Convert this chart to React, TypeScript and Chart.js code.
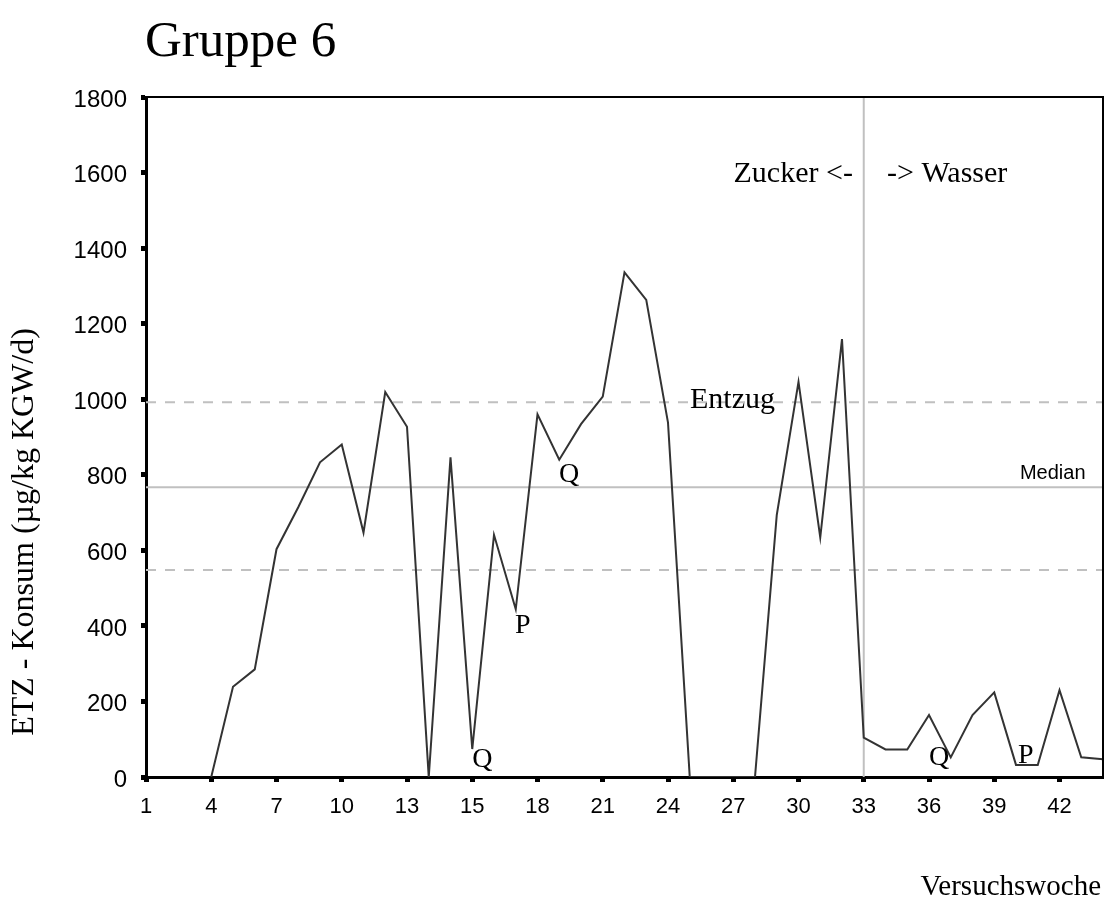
import React, { useEffect, useRef } from "react";
import { Chart, registerables } from "chart.js";

Chart.register(...registerables);

// Versuchswoche categories (one per data point)
const weeks: string[] = [
  "1", "2", "3", "4", "5", "6", "7", "8", "9", "10", "11", "12", "13", "14a", "14b",
  "15", "16", "17", "18", "19", "20", "21", "22", "23", "24", "25", "26", "27", "28", "29",
  "30", "31", "32", "33", "34", "35", "36", "37", "38", "39", "40", "41", "42", "43", "44",
];

// ETZ consumption (µg/kg KGW/d)
const konsum: (number | null)[] = [
  null, null, null, 0, 239, 285, 603, 714, 833, 880, 647, 1019, 927, 0, 846,
  74, 641, 444, 960, 840, 934, 1007, 1336, 1263, 938, 0, 0, 0, 0, 693,
  1046, 634, 1159, 104, 73, 73, 164, 52, 164, 224, 32, 32, 230, 52, 47,
];

const yTicks: number[] = [0, 200, 400, 600, 800, 1000, 1200, 1400, 1600, 1800];
const xTickIndex: number[] = [0, 3, 6, 9, 12, 15, 18, 21, 24, 27, 30, 33, 36, 39, 42];

const entzugUpper = 992;
const median = 767;
const entzugLower = 548;
const switchWeekIndex = 33;

// annotation texts anchored in data coordinates: [text, xIndex, yValue, align, fontSize]
const annotations: [string, number, number, CanvasTextAlign, number][] = [
  ["Q", 15.0, 26, "left", 28],
  ["P", 16.97, 381, "left", 28],
  ["Q", 18.99, 781, "left", 28],
  ["Q", 36.0, 32, "left", 28],
  ["P", 40.09, 37, "left", 28],
  ["Entzug", 25.01, 977, "left", 30],
  ["Zucker <-", 32.5, 1575, "right", 30],
  ["-> Wasser", 34.07, 1575, "left", 30],
];

const SERIF = "'Liberation Serif', 'Times New Roman', serif";
const SANS = "'Liberation Sans', Arial, sans-serif";

const annotPlugin = {
  id: "annotPlugin",
  afterDatasetsDraw(chart: any) {
    const { ctx, chartArea: a, scales } = chart;
    const x = scales.x;
    const y = scales.y;
    ctx.save();
    // frame top & right
    ctx.strokeStyle = "#000";
    ctx.lineWidth = 2;
    ctx.beginPath();
    ctx.moveTo(a.left, a.top);
    ctx.lineTo(a.right, a.top);
    ctx.lineTo(a.right, a.bottom);
    ctx.stroke();

    ctx.fillStyle = "#000";
    ctx.textBaseline = "alphabetic";
    for (const [t, xi, yv, al, fs] of annotations) {
      ctx.font = `${fs}px ${SERIF}`;
      ctx.textAlign = al;
      ctx.fillText(t, x.getPixelForValue(xi), y.getPixelForValue(yv));
    }
    ctx.font = `20px ${SANS}`;
    ctx.textAlign = "left";
    ctx.fillText("Median", x.getPixelForValue(40.18), y.getPixelForValue(median + 22));

    // title
    ctx.font = `51px ${SERIF}`;
    ctx.textAlign = "left";
    ctx.fillText("Gruppe 6", 145, 56);

    // x axis title
    ctx.font = `29px ${SERIF}`;
    ctx.textAlign = "right";
    ctx.fillText("Versuchswoche", 1101, 895);

    // y axis title
    ctx.translate(25, 532);
    ctx.rotate(-Math.PI / 2);
    ctx.font = `32px ${SERIF}`;
    ctx.textAlign = "center";
    ctx.textBaseline = "middle";
    ctx.fillText("ETZ - Konsum (µg/kg KGW/d)", 0, 0);
    ctx.restore();
  },
};

export default function App() {
  const ref = useRef<HTMLCanvasElement | null>(null);

  useEffect(() => {
    if (!ref.current) return;
    const lastIndex = weeks.length - 1;
    const hLine = (v: number) => [
      { x: 0, y: v },
      { x: lastIndex, y: v },
    ];
    const chart = new Chart(ref.current, {
      type: "line",
      data: {
        datasets: [
          {
            label: "ETZ",
            data: konsum.map((v, i) => ({ x: i, y: v })) as any,
            borderColor: "#333333",
            borderWidth: 2,
            pointRadius: 0,
            tension: 0,
            spanGaps: false,
            order: 0,
          },
          {
            label: "Entzug oben",
            data: hLine(entzugUpper),
            borderColor: "#c0c0c0",
            borderWidth: 2,
            borderDash: [10, 9],
            pointRadius: 0,
            order: 1,
          },
          {
            label: "Entzug unten",
            data: hLine(entzugLower),
            borderColor: "#c0c0c0",
            borderWidth: 2,
            borderDash: [10, 9],
            pointRadius: 0,
            order: 1,
          },
          {
            label: "Median",
            data: hLine(median),
            borderColor: "#c0c0c0",
            borderWidth: 2,
            pointRadius: 0,
            order: 1,
          },
          {
            label: "Wechsel",
            data: [
              { x: switchWeekIndex, y: yTicks[0] },
              { x: switchWeekIndex, y: yTicks[yTicks.length - 1] },
            ],
            borderColor: "#c0c0c0",
            borderWidth: 2,
            pointRadius: 0,
            order: 1,
          },
        ],
      },
      options: {
        responsive: false,
        animation: false,
        layout: { padding: { top: 97, left: 0, right: 2, bottom: 0 } },
        plugins: {
          legend: { display: false },
          tooltip: { enabled: false },
          title: { display: false },
        },
        scales: {
          x: {
            type: "linear",
            min: 0,
            max: lastIndex,
            afterBuildTicks: (s: any) => {
              s.ticks = xTickIndex.map((v) => ({ value: v }));
            },
            afterFit: (s: any) => {
              s.height = 125;
            },
            ticks: {
              autoSkip: false,
              maxRotation: 0,
              padding: 12,
              color: "#000",
              font: { family: SANS, size: 22 },
              callback: (v: any) => weeks[Number(v)],
            },
            grid: {
              drawOnChartArea: false,
              drawTicks: true,
              tickLength: 5,
              tickWidth: 5,
              tickColor: "#000",
            },
            border: { display: true, color: "#000", width: 3 },
          },
          y: {
            type: "linear",
            min: yTicks[0],
            max: yTicks[yTicks.length - 1],
            afterBuildTicks: (s: any) => {
              s.ticks = yTicks.map((v) => ({ value: v }));
            },
            afterFit: (s: any) => {
              s.width = 146;
            },
            ticks: {
              padding: 14,
              labelOffset: 3,
              color: "#000",
              font: { family: SANS, size: 24 },
              callback: (v: any) => String(v),
            },
            grid: {
              drawOnChartArea: false,
              drawTicks: true,
              tickLength: 5,
              tickWidth: 5,
              tickColor: "#000",
            },
            border: { display: true, color: "#000", width: 3 },
          },
        },
      },
      plugins: [annotPlugin],
    });
    return () => chart.destroy();
  }, []);

  return (
    <div style={{ position: "absolute", left: 0, top: 0, width: 1105, height: 902, background: "#fff" }}>
      <canvas ref={ref} width={1105} height={902} />
    </div>
  );
}
